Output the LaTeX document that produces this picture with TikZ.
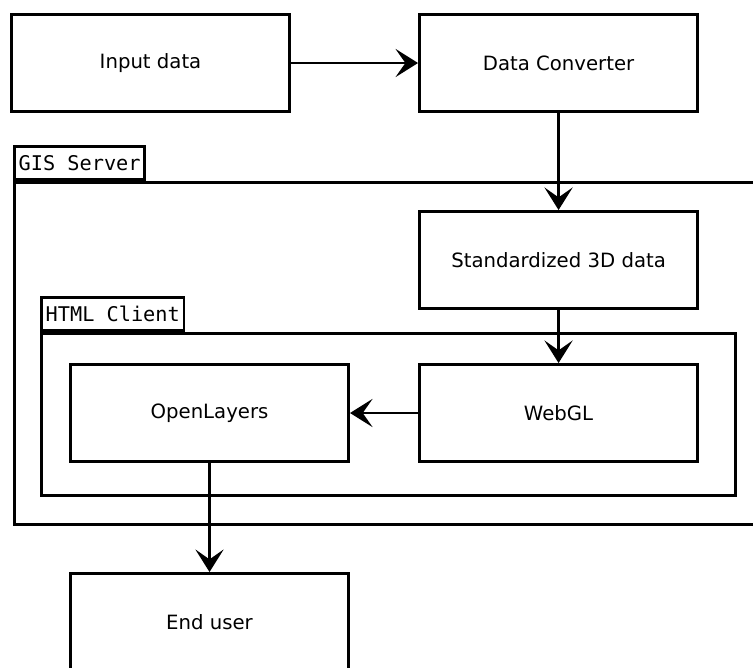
\documentclass[tikz,border=0pt]{standalone}
\usepackage{fontspec}
\setmainfont{DejaVu Sans}
\setmonofont{DejaVu Sans Mono}
\usetikzlibrary{arrows.meta,positioning}

\begin{document}
\begin{tikzpicture}[x=0.025cm, y=-0.025cm,
          box/.style={rectangle, draw, line width=2.1pt, minimum width=6.95cm, minimum height=2.425cm, font=\fontsize{14}{16}\selectfont},
          frame/.style={rectangle, draw, line width=2.1pt, anchor=north west, inner sep=0pt},
          tag/.style={rectangle, draw, line width=2.1pt, anchor=south west, minimum height=0.825cm, inner xsep=3pt, inner ysep=0pt, font=\ttfamily\fontsize{14.4}{16}\selectfont},
          flow/.style={-{Stealth[length=16pt, width=20pt, inset=7pt]}, line width=2pt}]
          
          \useasboundingbox (0,0) rectangle (753,667);
          
          % containers
          \node[frame, minimum width=18.8cm, minimum height=8.55cm] (gis) at (13,181) {};
          \node[tag] (gistag) at (gis.north west) {GIS Server};
          \node[frame, minimum width=17.35cm, minimum height=4.05cm] (client) at (40,332) {};
          \node[tag] (clienttag) at (client.north west) {HTML Client};
          
          \node[box] (input) at (150.5,63) {Input data};
          \node[box, right=3.175cm of input] (conv) {Data Converter};
          \node[box, below=2.425cm of conv] (std) {Standardized 3D data};
          \node[box, below=1.325cm of std] (webgl) {WebGL};
          \node[box, left=1.7cm of webgl] (openl) {OpenLayers};
          \node[box, below=2.725cm of openl] (user) {End user};
          
          \draw[flow] (input) -- (conv);
          \draw[flow] (conv) -- (std);
          \draw[flow] (std) -- (webgl);
          \draw[flow] (webgl) -- (openl);
          \draw[flow] (openl) -- (user);
        \end{tikzpicture}
\end{document}
